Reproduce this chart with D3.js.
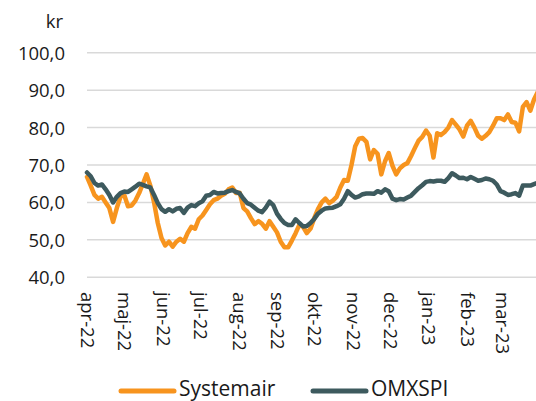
<!DOCTYPE html>
<html><head><meta charset="utf-8">
<script src="https://cdn.jsdelivr.net/npm/d3@7"></script>
<style>html,body{margin:0;padding:0;background:#fff;overflow:hidden}svg{display:block}</style>
</head><body><svg id="c" width="536" height="401"></svg>
<script>
const dates = ["2022-04-01","2022-04-04","2022-04-07","2022-04-10","2022-04-13","2022-04-16","2022-04-19","2022-04-22","2022-04-25","2022-04-28",
"2022-05-01","2022-05-04","2022-05-07","2022-05-10","2022-05-13","2022-05-16","2022-05-19","2022-05-22","2022-05-25","2022-05-28","2022-05-31",
"2022-06-03","2022-06-06","2022-06-09","2022-06-12","2022-06-15","2022-06-18","2022-06-21","2022-06-24","2022-06-27","2022-06-30",
"2022-07-03","2022-07-06","2022-07-09","2022-07-12","2022-07-15","2022-07-18","2022-07-21","2022-07-24","2022-07-27","2022-07-30",
"2022-08-02","2022-08-05","2022-08-08","2022-08-11","2022-08-14","2022-08-17","2022-08-20","2022-08-23","2022-08-26","2022-08-29",
"2022-09-01","2022-09-04","2022-09-07","2022-09-10","2022-09-13","2022-09-16","2022-09-19","2022-09-22","2022-09-25","2022-09-28",
"2022-10-01","2022-10-04","2022-10-07","2022-10-10","2022-10-13","2022-10-16","2022-10-19","2022-10-22","2022-10-25","2022-10-28","2022-10-31",
"2022-11-03","2022-11-06","2022-11-09","2022-11-12","2022-11-15","2022-11-18","2022-11-21","2022-11-24","2022-11-27","2022-11-30",
"2022-12-03","2022-12-06","2022-12-09","2022-12-12","2022-12-15","2022-12-18","2022-12-21","2022-12-24","2022-12-27","2022-12-30",
"2023-01-02","2023-01-05","2023-01-08","2023-01-11","2023-01-14","2023-01-17","2023-01-20","2023-01-23","2023-01-26","2023-01-29",
"2023-02-01","2023-02-04","2023-02-07","2023-02-10","2023-02-13","2023-02-16","2023-02-19","2023-02-22","2023-02-25","2023-02-28",
"2023-03-03","2023-03-06","2023-03-09","2023-03-12","2023-03-15","2023-03-18","2023-03-21","2023-03-24","2023-03-27","2023-03-30"];

const systemair = [66.8,64.5,62.0,61.0,61.5,60.0,58.5,54.8,58.5,61.5,
62.0,59.0,59.2,60.5,62.5,65.0,67.5,64.5,60.0,54.5,50.5,
48.5,49.5,48.2,49.5,50.3,49.5,51.8,53.5,53.0,55.5,
56.5,58.0,59.5,60.6,61.0,61.8,62.3,63.5,64.0,62.5,
62.6,58.5,57.6,55.8,54.2,55.0,54.3,53.0,55.0,53.5,
52.0,49.5,48.0,48.0,49.8,51.8,54.0,53.5,51.8,53.0,
55.8,58.2,60.0,61.0,59.8,60.5,61.5,64.0,66.0,65.8,70.0,
75.0,77.0,77.2,76.2,71.5,74.0,73.0,67.5,71.0,73.2,
69.8,67.5,69.1,70.0,70.5,72.4,74.5,76.5,77.5,79.2,
77.8,72.0,78.5,78.0,78.8,80.0,82.0,80.8,79.5,77.6,
80.5,81.8,80.0,77.8,77.0,77.8,78.8,80.5,82.5,82.5,
82.0,83.5,81.5,81.3,79.0,85.5,86.8,84.5,87.5,89.5];

const omxspi = [68.0,67.0,65.2,64.5,64.8,63.5,62.0,60.0,61.5,62.5,
62.9,62.8,63.5,64.2,65.0,64.7,64.3,64.0,62.0,59.8,58.2,
57.5,58.2,57.6,58.3,58.5,57.2,58.6,59.3,59.0,59.8,
60.3,61.8,62.0,62.8,62.4,62.5,62.6,63.0,63.3,62.8,
62.4,61.0,59.8,59.4,58.6,57.8,57.4,58.6,60.2,59.3,
57.0,55.6,54.5,54.0,54.0,55.5,54.5,53.6,53.7,54.5,
55.6,57.0,57.8,58.4,58.5,58.6,59.0,59.5,61.0,63.0,62.0,
61.3,61.6,62.2,62.4,62.4,62.3,63.0,62.6,63.5,63.0,
61.0,60.6,60.9,60.8,61.3,61.8,62.8,63.8,64.6,65.5,
65.7,65.6,65.8,65.8,65.5,66.5,67.8,67.2,66.5,66.6,
66.2,66.8,66.3,65.8,66.0,66.4,66.2,65.8,64.8,63.0,
62.6,62.0,62.2,62.5,61.8,64.5,64.5,64.5,64.9,65.3];

const yTicks = [40,50,60,70,80,90,100];
const monthTicks = ["2022-04-01","2022-05-01","2022-06-01","2022-07-01","2022-08-01","2022-09-01","2022-10-01","2022-11-01","2022-12-01","2023-01-01","2023-02-01","2023-03-01"];
const monthLabels = ["apr-22","maj-22","jun-22","jul-22","aug-22","sep-22","okt-22","nov-22","dec-22","jan-23","feb-23","mar-23"];
const seriesNames = ["Systemair","OMXSPI"];
const colors = ["#F7941E","#3D5A5E"];
const unit = "kr";

const parse = d3.timeParse("%Y-%m-%d");
const svg = d3.select("#c");
const font = "'Open Sans', sans-serif";

const x = d3.scaleTime().domain([parse("2022-04-01"), parse("2023-03-31")]).range([87, 539]);
const y = d3.scaleLinear().domain([40, 100]).range([277.3, 52.7]);

// gridlines
svg.append("g").selectAll("line").data(yTicks).join("line")
  .attr("x1", 87).attr("x2", 536)
  .attr("y1", d => y(d)).attr("y2", d => y(d))
  .attr("stroke", "#D9D9D9").attr("stroke-width", 1.5);

// y axis labels
const yAxis = d3.axisLeft(y).tickValues(yTicks).tickSize(0).tickPadding(0)
  .tickFormat(d => d3.format(".1f")(d).replace(".", ","));
const gy = svg.append("g").attr("transform", "translate(65,0)").call(yAxis);
gy.select(".domain").remove();
gy.selectAll("text").attr("font-family", font).attr("font-size", 18.5).attr("fill", "#1a1a1a").attr("dy", "0.35em");

svg.append("text").attr("x", 63).attr("y", 28).attr("text-anchor", "end")
  .attr("font-family", font).attr("font-size", 18.5).attr("fill", "#1a1a1a").text(unit);

// x axis labels
const xAxis = d3.axisBottom(x).tickValues(monthTicks.map(parse)).tickSize(0).tickPadding(0)
  .tickFormat((d, i) => monthLabels[i]);
const gx = svg.append("g").attr("transform", "translate(0,290)").call(xAxis);
gx.select(".domain").remove();
gx.selectAll("text").attr("font-family", font).attr("font-size", 18.5).attr("fill", "#1a1a1a")
  .attr("transform", "rotate(90)").attr("text-anchor", "start")
  .attr("x", 2).attr("y", 0).attr("dy", "0.35em");

// lines
const series = [systemair, omxspi];
const line = d3.line().x((d, i) => x(parse(dates[i]))).y(d => y(d));
series.forEach((s, k) => {
  svg.append("path").datum(s).attr("d", line)
    .attr("fill", "none").attr("stroke", colors[k]).attr("stroke-width", 4.5)
    .attr("stroke-linejoin", "round").attr("stroke-linecap", "round");
});

// legend
const legendX = [121, 313];
seriesNames.forEach((n, k) => {
  svg.append("line").attr("x1", legendX[k]).attr("x2", legendX[k] + 53)
    .attr("y1", 391).attr("y2", 391).attr("stroke", colors[k]).attr("stroke-width", 5)
    .attr("stroke-linecap", "round");
  svg.append("text").attr("x", legendX[k] + 58).attr("y", 389).attr("dy", "0.35em")
    .attr("font-family", font).attr("font-size", 21).attr("fill", "#1a1a1a").text(n);
});
</script></body></html>
